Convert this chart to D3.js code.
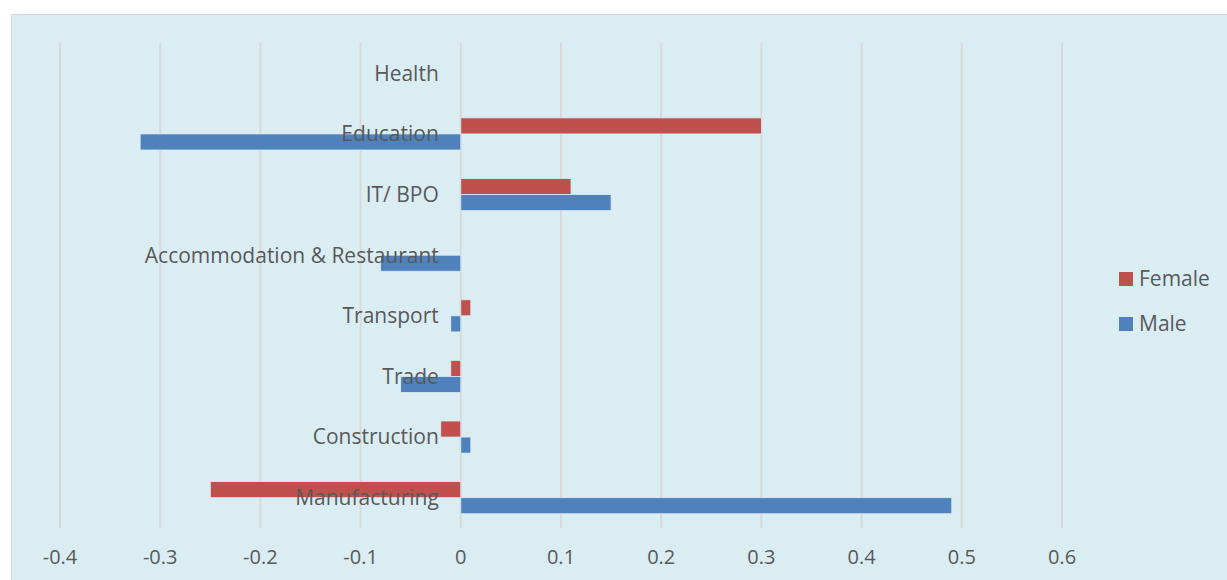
<!DOCTYPE html>
<html>
<head>
<meta charset="utf-8">
<script src="https://cdn.jsdelivr.net/npm/d3@7"></script>
<style>
  body { margin: 0; background: #fff; }
  svg { display: block; }
</style>
</head>
<body>
<svg id="chart" width="1227" height="580"></svg>
<script>
const categories = ["Health", "Education", "IT/ BPO", "Accommodation & Restaurant", "Transport", "Trade", "Construction", "Manufacturing"];
const female = [0, 0.3, 0.11, 0, 0.01, -0.01, -0.02, -0.25];
const male = [0, -0.32, 0.15, -0.08, -0.01, -0.06, 0.01, 0.49];
const xTicks = [-0.4, -0.3, -0.2, -0.1, 0, 0.1, 0.2, 0.3, 0.4, 0.5, 0.6];

const series = [
  { name: "Female", values: female, color: "#C0504D" },
  { name: "Male", values: male, color: "#4F81BD" }
];

const svg = d3.select("#chart");
const font = "'Open Sans', 'Noto Sans', sans-serif";
const textColor = "#595959";

// chart area
svg.append("rect")
  .attr("x", 11.5).attr("y", 14.5)
  .attr("width", 1220).attr("height", 570)
  .attr("fill", "#DAEDF3")
  .attr("stroke", "#D9D9D9");

const x = d3.scaleLinear().domain([-0.4, 0.6]).range([60, 1062]);
const y = d3.scaleBand().domain(categories).range([43, 528]).paddingInner(0.47).paddingOuter(0.235);
const sub = d3.scaleBand().domain(series.map(s => s.name)).range([0, y.bandwidth()]);

// gridlines
svg.append("g")
  .selectAll("line")
  .data(xTicks)
  .join("line")
  .attr("x1", d => x(d)).attr("x2", d => x(d))
  .attr("y1", 43).attr("y2", 528)
  .attr("stroke", "#D9D9D9")
  .attr("stroke-width", 2);

// tick labels
svg.append("g")
  .selectAll("text")
  .data(xTicks)
  .join("text")
  .attr("x", d => x(d))
  .attr("y", 564)
  .attr("text-anchor", "middle")
  .attr("font-family", font)
  .attr("font-size", "20px")
  .attr("fill", textColor)
  .text(d => String(d));

// bars
series.forEach(s => {
  svg.append("g")
    .selectAll("rect")
    .data(categories.map((c, i) => ({ c: c, v: s.values[i] })).filter(d => d.v !== 0))
    .join("rect")
    .attr("x", d => Math.min(x(0), x(d.v)))
    .attr("y", d => y(d.c) + sub(s.name))
    .attr("width", d => Math.abs(x(d.v) - x(0)))
    .attr("height", sub.bandwidth())
    .attr("fill", s.color)
    .attr("stroke", "#DAEDF3")
    .attr("stroke-width", 0.8);
});

// category labels sit on top of the bars, next to the zero line
svg.append("g")
  .selectAll("text")
  .data(categories)
  .join("text")
  .attr("x", x(0) - 22)
  .attr("y", d => y(d) + y.bandwidth() / 2)
  .attr("dy", "0.35em")
  .attr("text-anchor", "end")
  .attr("font-family", font)
  .attr("font-size", "21px")
  .attr("fill", textColor)
  .text(d => d);

// legend
const legend = svg.append("g").attr("transform", "translate(1119,272)");
series.forEach((s, i) => {
  const g = legend.append("g").attr("transform", `translate(0,${i * 45})`);
  g.append("rect").attr("width", 14).attr("height", 14).attr("fill", s.color);
  g.append("text")
    .attr("x", 20).attr("y", 7).attr("dy", "0.35em")
    .attr("font-family", font)
    .attr("font-size", "21px")
    .attr("fill", textColor)
    .text(s.name);
});
</script>
</body>
</html>
